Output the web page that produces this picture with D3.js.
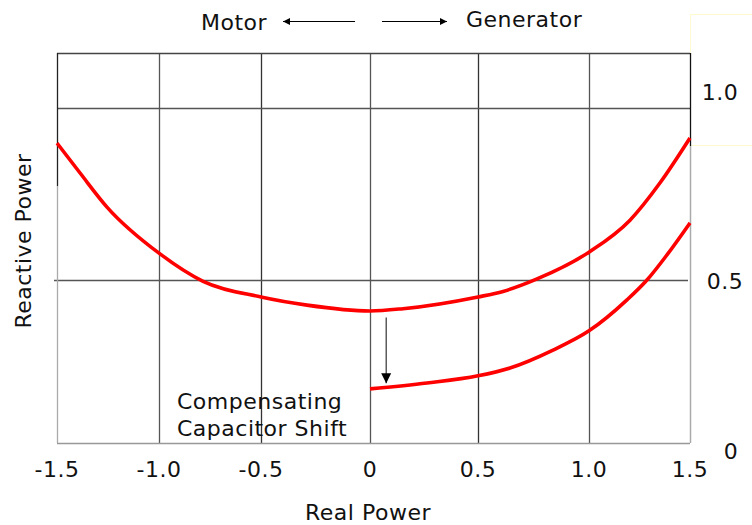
<!DOCTYPE html>
<html>
<head>
<meta charset="utf-8">
<script src="https://cdn.jsdelivr.net/npm/d3@7"></script>
<style>
  html, body { margin: 0; padding: 0; background: #fff; }
  svg { display: block; }
  text { font-family: "DejaVu Sans", Verdana, sans-serif; fill: #111; font-size: 22px; letter-spacing: 0.5px; }
</style>
</head>
<body>
<svg id="chart" width="752" height="525"></svg>
<script>
// ---- data ----
const xTicks = [-1.5, -1.0, -0.5, 0, 0.5, 1.0, 1.5];
const xTickLabels = ["-1.5", "-1.0", "-0.5", "0", "0.5", "1.0", "1.5"];
const yTicks = [0, 0.5, 1.0];
const yTickLabels = ["0", "0.5", "1.0"];

// Original curve (no compensation)
const originalX = [-1.5, -1.387, -1.255, -1.0, -0.784, -0.5, -0.289, 0, 0.153, 0.5, 0.613, 0.766, 1.0, 1.203, 1.351, 1.5];
const originalY = [0.898, 0.811, 0.712, 0.578, 0.496, 0.448, 0.423, 0.405, 0.412, 0.448, 0.465, 0.503, 0.581, 0.674, 0.782, 0.913];

// Shifted curve (with compensating capacitor)
const shiftedX = [0, 0.264, 0.5, 0.644, 0.838, 1.0, 1.188, 1.287, 1.386, 1.5];
const shiftedY = [0.166, 0.184, 0.206, 0.230, 0.285, 0.344, 0.439, 0.5, 0.573, 0.666];

const xTitle = "Real Power";
const yTitle = "Reactive Power";
const motorLabel = "Motor";
const generatorLabel = "Generator";
const annotationLines = ["Compensating", "Capacitor Shift"];

// ---- layout ----
const svg = d3.select("#chart");
const L = 57, R = 690, T = 53, B = 443;

// piecewise linear scales matching the hand-drawn grid
const x = d3.scaleLinear().domain(xTicks).range([57, 159, 261, 370, 478, 589, 690]);
const y = d3.scaleLinear().domain(yTicks).range([443, 280, 108]);
const yMax = y.invert(T);

// faint yellow box at top right
svg.append("rect").attr("x", 690.5).attr("y", 14.5).attr("width", 70).attr("height", 131)
  .attr("fill", "none").attr("stroke", "#fffad0").attr("stroke-width", 1);

// vertical grid lines (interior)
svg.append("g").selectAll("line").data(xTicks.slice(1, -1)).join("line")
  .attr("x1", d => Math.round(x(d)) + 0.5).attr("x2", d => Math.round(x(d)) + 0.5)
  .attr("y1", T).attr("y2", B)
  .attr("stroke", (d, i) => (i % 2 === 0 ? "#555" : "#333")).attr("stroke-width", 1.3);

// horizontal grid lines
svg.append("line").attr("x1", 54).attr("x2", R - 2).attr("y1", y(0.5) + 0.5).attr("y2", y(0.5) + 0.5)
  .attr("stroke", "#555").attr("stroke-width", 1.3);
svg.append("line").attr("x1", L).attr("x2", R).attr("y1", y(1.0) + 0.5).attr("y2", y(1.0) + 0.5)
  .attr("stroke", "#555").attr("stroke-width", 1.3);
svg.append("line").attr("x1", L).attr("x2", R).attr("y1", y(yMax) + 0.5).attr("y2", y(yMax) + 0.5)
  .attr("stroke", "#444").attr("stroke-width", 1.3);
// bottom axis line
svg.append("line").attr("x1", L).attr("x2", R).attr("y1", y(0) + 0.5).attr("y2", y(0) + 0.5)
  .attr("stroke", "#999").attr("stroke-width", 1.5);

// left border: dark upper part, light lower part
svg.append("line").attr("x1", L + 0.5).attr("x2", L + 0.5).attr("y1", T).attr("y2", 186)
  .attr("stroke", "#222").attr("stroke-width", 1.3);
svg.append("line").attr("x1", L + 0.5).attr("x2", L + 0.5).attr("y1", 186).attr("y2", B)
  .attr("stroke", "#aaa").attr("stroke-width", 1.3);
// right border
svg.append("line").attr("x1", R + 0.5).attr("x2", R + 0.5).attr("y1", T).attr("y2", 146)
  .attr("stroke", "#111").attr("stroke-width", 1.3);
svg.append("line").attr("x1", R + 0.5).attr("x2", R + 0.5).attr("y1", 146).attr("y2", B)
  .attr("stroke", "#aaa").attr("stroke-width", 1.5);

// curves
const line = d3.line().x(d => x(d[0])).y(d => y(d[1])).curve(d3.curveMonotoneX);
const origData = originalX.map((v, i) => [v, originalY[i]]);
const shiftData = shiftedX.map((v, i) => [v, shiftedY[i]]);
svg.append("path").datum(origData).attr("d", line)
  .attr("fill", "none").attr("stroke", "#ff0000").attr("stroke-width", 3.6).attr("stroke-linecap", "butt");
svg.append("path").datum(shiftData).attr("d", line)
  .attr("fill", "none").attr("stroke", "#ff0000").attr("stroke-width", 3.6).attr("stroke-linecap", "butt");

// shift arrow
const defs = svg.append("defs");
defs.append("marker").attr("id", "ah").attr("viewBox", "0 0 10 10").attr("refX", 10).attr("refY", 5)
  .attr("markerWidth", 10).attr("markerHeight", 11).attr("markerUnits", "userSpaceOnUse")
  .attr("orient", "auto")
  .append("path").attr("d", "M0,0 L10,5 L0,10 Z").attr("fill", "#000");
const ax = x(0.075);
svg.append("line").attr("x1", ax).attr("x2", ax).attr("y1", y(0.385)).attr("y2", y(0.183))
  .attr("stroke", "#333").attr("stroke-width", 1.2).attr("marker-end", "url(#ah)");

// annotation
svg.append("text").attr("x", 177).attr("y", 409).text(annotationLines[0]);
svg.append("text").attr("x", 177).attr("y", 436).text(annotationLines[1]);

// x tick labels
svg.append("g").selectAll("text").data(xTicks).join("text")
  .attr("x", d => x(d)).attr("y", 477).attr("text-anchor", "middle")
  .text((d, i) => xTickLabels[i]);

// y tick labels (right side)
const yLabelPos = [{yy: 459, xx: 731}, {yy: 289, xx: 725}, {yy: 100, xx: 720}];
svg.append("g").selectAll("text").data(yTicks).join("text")
  .attr("x", (d, i) => yLabelPos[i].xx).attr("y", (d, i) => yLabelPos[i].yy)
  .attr("text-anchor", "middle")
  .text((d, i) => yTickLabels[i]);

// axis titles
svg.append("text").attr("x", 368).attr("y", 520).attr("text-anchor", "middle").text(xTitle);
svg.append("text").attr("transform", "translate(31,241) rotate(-90)").attr("text-anchor", "middle").text(yTitle);

// motor / generator header with arrows
svg.append("text").attr("x", 201).attr("y", 30).text(motorLabel);
svg.append("text").attr("x", 466).attr("y", 27).text(generatorLabel);
defs.append("marker").attr("id", "ah2").attr("viewBox", "0 0 10 10").attr("refX", 10).attr("refY", 5)
  .attr("markerWidth", 9).attr("markerHeight", 7).attr("markerUnits", "userSpaceOnUse")
  .attr("orient", "auto")
  .append("path").attr("d", "M0,0 L10,5 L0,10 Z").attr("fill", "#000");
svg.append("line").attr("x1", 355).attr("x2", 283).attr("y1", 21.5).attr("y2", 21.5)
  .attr("stroke", "#000").attr("stroke-width", 1.2).attr("marker-end", "url(#ah2)");
svg.append("line").attr("x1", 382).attr("x2", 447).attr("y1", 21.5).attr("y2", 21.5)
  .attr("stroke", "#000").attr("stroke-width", 1.2).attr("marker-end", "url(#ah2)");
</script>
</body>
</html>
